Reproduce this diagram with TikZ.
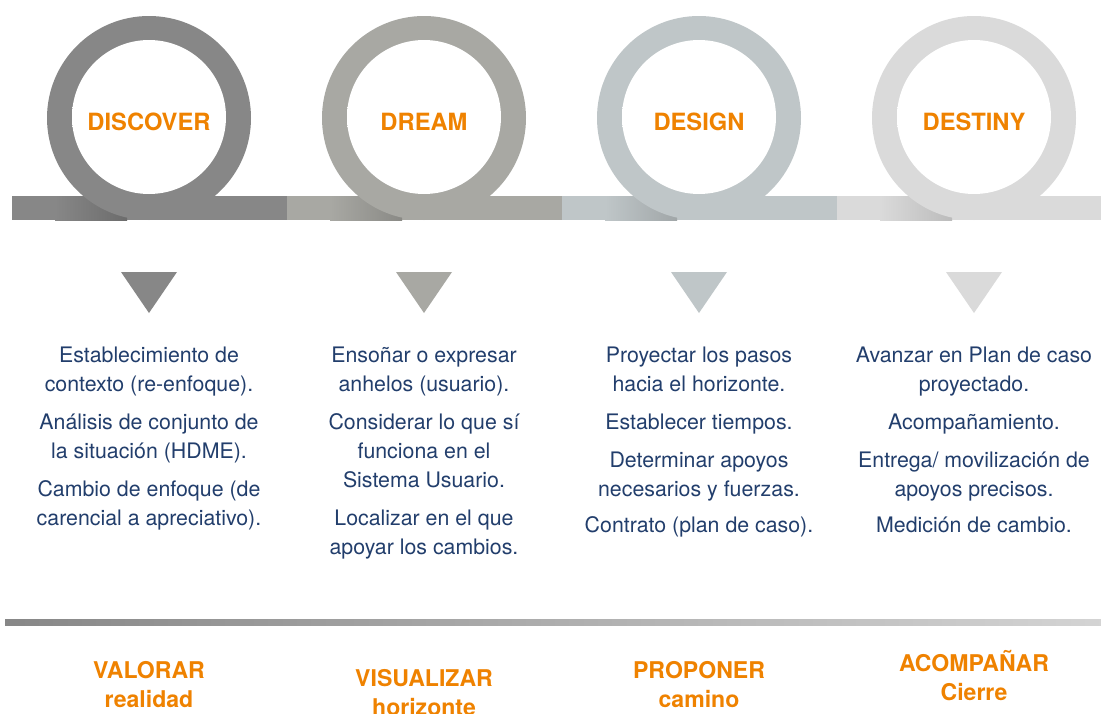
\documentclass[tikz,border=0pt]{standalone}
\usepackage{fontspec}
\setmainfont{TeX Gyre Heros}
\usepackage{xcolor}

\definecolor{cdiscover}{HTML}{878787}
\definecolor{cdream}{HTML}{A8A8A3}
\definecolor{cdesign}{HTML}{BFC6C8}
\definecolor{cdestiny}{HTML}{DADADA}
\definecolor{corange}{HTML}{EF8200}
\definecolor{cnavy}{HTML}{223E6C}

\pgfdeclareradialshading{innerglow}{\pgfpoint{7bp}{7bp}}{color(0bp)=(white); color(38bp)=(white); color(50bp)=(black!13)}
\pgfdeclareradialshading{ringshadow}{\pgfpoint{0bp}{0bp}}{color(0bp)=(black!22); color(50bp)=(black!0)}

\tikzset{
	phase/.style={font=\fontsize{17.8}{20}\selectfont\bfseries, text=corange, inner sep=0pt},
	body/.style={font=\fontsize{16}{21.75}\selectfont, text=cnavy, align=center, inner sep=0pt, anchor=north},
	foot/.style={font=\fontsize{17.3}{21.75}\selectfont\bfseries, text=corange, align=center, inner sep=0pt, anchor=north}
}

\begin{document}
\begin{tikzpicture}[x=0.75pt, y=-0.75pt]
	\useasboundingbox [fill=white] (0,0) rectangle (1101,714);

	% bar
	\fill [cdiscover] (12,196) rectangle (287,220);
	\fill [cdream] (287,196) rectangle (562,220);
	\fill [cdesign] (562,196) rectangle (837,220);
	\fill [cdestiny] (837,196) rectangle (1101,220);
	\shade [left color=cdiscover, right color=cdiscover!80!black] (55,196) rectangle (127,220);
	\shade [left color=cdream, right color=cdream!82!black] (330,196) rectangle (402,220);
	\shade [left color=cdesign, right color=cdesign!84!black] (605,196) rectangle (677,220);
	\shade [left color=cdestiny, right color=cdestiny!86!black] (880,196) rectangle (952,220);

	% rings
	\fill [cdiscover] (149,118) circle (102);
	\fill [cdream] (424,118) circle (102);
	\fill [cdesign] (699,118) circle (102);
	\fill [cdestiny] (974,118) circle (102);
	\shade [shading=innerglow] (149,117) circle (77);
	\shade [shading=innerglow] (424,117) circle (77);
	\shade [shading=innerglow] (699,117) circle (77);
	\shade [shading=innerglow] (974,117) circle (77);

	\node [phase] (discover) at (149,122) {DISCOVER};
	\node [phase] (dream) at (424,122) {DREAM};
	\node [phase] (design) at (699,122) {DESIGN};
	\node [phase] (destiny) at (974,122) {DESTINY};

	% triangles
	\fill [cdiscover] (121,272) -- (177,272) -- (149,313) -- cycle;
	\fill [cdream] (396,272) -- (452,272) -- (424,313) -- cycle;
	\fill [cdesign] (671,272) -- (727,272) -- (699,313) -- cycle;
	\fill [cdestiny] (946,272) -- (1002,272) -- (974,313) -- cycle;

	\node [body] (discovertext) at (149,347) {Establecimiento de\\contexto (re-enfoque).\\[6.75pt]
		Análisis de conjunto de\\la situación (HDME).\\[6.75pt]
		Cambio de enfoque (de\\carencial a apreciativo).};
	\node [body] (dreamtext) at (424,347) {Ensoñar o expresar\\anhelos (usuario).\\[6.75pt]
		Considerar lo que sí\\funciona en el\\Sistema Usuario.\\[6.75pt]
		Localizar en el que\\apoyar los cambios.};
	\node [body] (designtext) at (699,347) {Proyectar los pasos\\hacia el horizonte.\\[6.75pt]
		Establecer tiempos.\\[6.75pt]
		Determinar apoyos\\necesarios y fuerzas.\\[5pt]
		Contrato (plan de caso).};
	\node [body] (destinytext) at (974,347) {Avanzar en Plan de caso\\proyectado.\\[6.75pt]
		Acompañamiento.\\[6.75pt]
		Entrega/ movilización de\\apoyos precisos.\\[5pt]
		Medición de cambio.};

	% bottom line
	\shade [left color=black!47, right color=black!17] (5,619) rectangle (1101,625);

	\node [foot] (valorar) at (149,661) {VALORAR\\realidad};
	\node [foot] (visualizar) at (424,669) {VISUALIZAR\\horizonte};
	\node [foot] (proponer) at (699,661) {PROPONER\\camino};
	\node [foot] (acompanar) at (974,650) {ACOMPAÑAR\\Cierre};
\end{tikzpicture}
\end{document}
